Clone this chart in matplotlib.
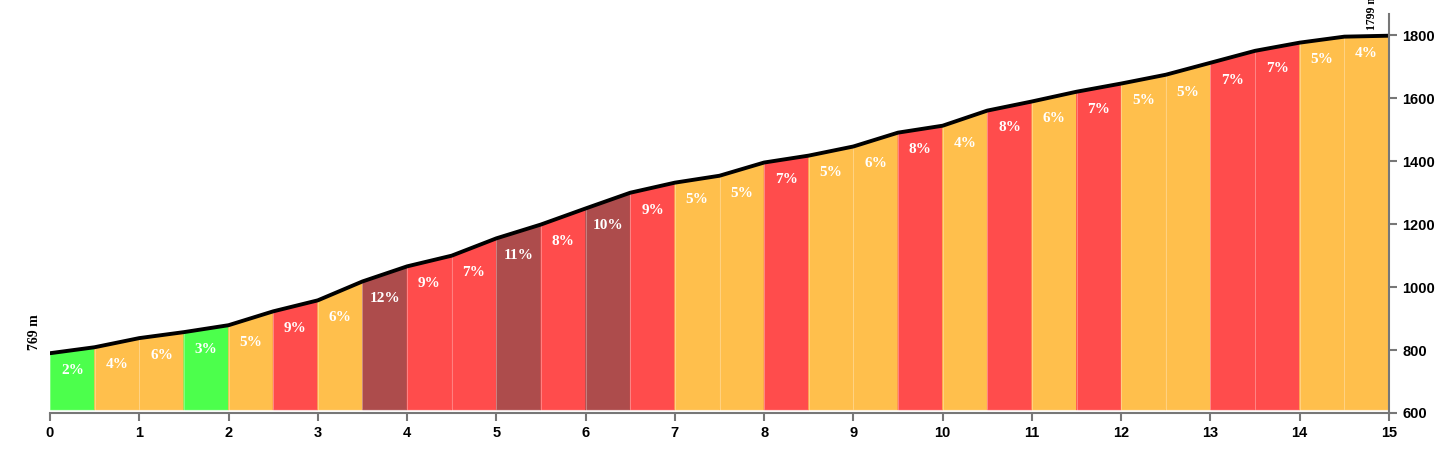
import numpy as np
import matplotlib
matplotlib.use("Agg")
from matplotlib import pyplot as plt

# distance (km) and elevation (m) read from the profile
km = [0, 0.5, 1, 1.5, 2, 2.5, 3, 3.5, 4, 4.5, 5, 5.5, 6, 6.5, 7, 7.5,
      8, 8.5, 9, 9.5, 10, 10.5, 11, 11.5, 12, 12.5, 13, 13.5, 14, 14.5, 15]
elev = [790, 809, 838, 857, 879, 923, 958, 1018, 1066, 1100, 1155, 1199, 1250, 1300,
        1332, 1354, 1396, 1418, 1447, 1491, 1513, 1561, 1590, 1621, 1647, 1675,
        1713, 1751, 1777, 1796, 1799]
grades = [2, 4, 6, 3, 5, 9, 6, 12, 9, 7, 11, 8, 10, 9, 5, 5, 7, 5, 6, 8,
          4, 8, 6, 7, 5, 5, 7, 7, 5, 4]
start_label = "769 m"
end_label = "1799 m"


def grade_color(g):
    if g <= 3:
        return "#4cff4c"
    if g <= 6:
        return "#ffbf4c"
    if g <= 9:
        return "#ff4c4c"
    return "#ad4c4c"


fig = plt.figure(figsize=(14.5, 4.55), dpi=100)
ax = fig.add_axes([50 / 1450, 42 / 455, 1339 / 1450, 399 / 455])
base = 610
for i, g in enumerate(grades):
    x0, x1 = km[i], km[i + 1]
    c = grade_color(g)
    ax.fill([x0, x1, x1, x0], [base, base, elev[i + 1], elev[i]],
            color=c, lw=0.5, ec=c, zorder=1)
    ax.plot([x0, x0], [base, elev[i]], color="white", lw=0.6, alpha=0.35, zorder=1.5)
    ax.text((x0 + x1) / 2, elev[i] - 55, f"{g}%", color="white", ha="center",
            va="center", fontsize=11, fontweight="bold", family="Liberation Serif", zorder=3)
ax.plot(km, elev, color="black", lw=2.8, zorder=2, solid_capstyle="round")

ax.text(-0.1, elev[0] + 10, start_label, rotation=90, ha="right", va="bottom",
        fontsize=10, fontweight="bold", family="Liberation Serif")
ax.text(14.88, elev[-1] + 18, end_label, rotation=90, ha="right", va="bottom",
        fontsize=8.5, fontweight="bold", family="Liberation Serif", clip_on=False)

ax.set_xlim(0, 15)
ax.set_ylim(600, 1868)
ax.set_xticks(range(16))
ax.set_yticks(range(600, 1801, 200))
ax.yaxis.tick_right()
for s in ["top", "left"]:
    ax.spines[s].set_visible(False)
for s in ["bottom", "right"]:
    ax.spines[s].set_color("#777777")
    ax.spines[s].set_linewidth(1.5)
ax.tick_params(colors="#777777", width=1.5, length=6, labelcolor="black")
for lab in ax.get_xticklabels() + ax.get_yticklabels():
    lab.set_fontweight("bold")
    lab.set_family("Liberation Sans")
    lab.set_fontsize(10.5)

fig.savefig("out.png")
